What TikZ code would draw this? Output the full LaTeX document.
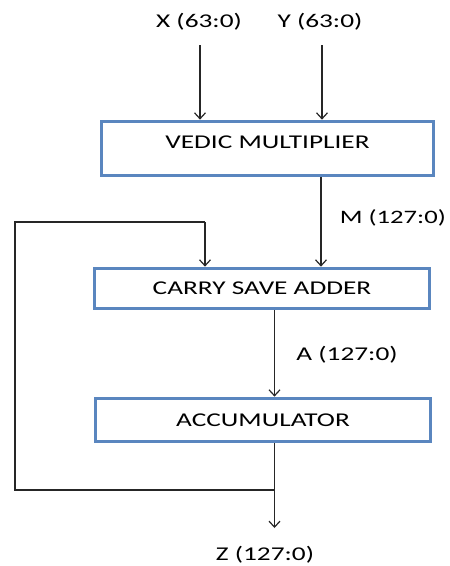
\documentclass[tikz,border=0pt]{standalone}
\usepackage{fontspec}
\setmainfont{Carlito}[FakeStretch=1.4]
\usepackage{tikz}
\usetikzlibrary{arrows.meta,positioning,calc}
\definecolor{blkedge}{HTML}{5A86BF}

\begin{document}
\begin{tikzpicture}[x=1pt, y=-1pt,
    blk/.style={draw=blkedge, line width=3.7pt, fill=white, inner sep=0pt,
                font=\fontsize{19.5}{22}\selectfont},
    lbl/.style={font=\fontsize{19.5}{22}\selectfont, inner sep=0pt},
    arr/.style={-{Straight Barb[length=6pt, width=11pt]}, line width=1.2pt, black!85},
    wire/.style={line width=1.2pt, black!85}]
    \useasboundingbox (0,0) rectangle (450,566);
    \node[lbl] (xl) at (199,22) {X (63:0)};
    \node[lbl] (yl) at (320,22) {Y (63:0)};
    \node[blk, minimum width=332pt, minimum height=54pt, text depth=12pt] (vm) at (267.5,148.5) {VEDIC MULTIPLIER};
    \node[blk, minimum width=335pt, minimum height=40pt] (csa) at (262,288.5) {CARRY SAVE ADDER};
    \node[blk, minimum width=335pt, minimum height=43pt] (acc) at (263,420) {ACCUMULATOR};
    \node[lbl, anchor=east, font=\fontsize{19}{22}\selectfont] (ml) at (446,218) {M (127:0)};
    \node[lbl] (al) at (347,355) {A (127:0)};
    \node[lbl] (zl) at (265,555) {Z (127:0)};
    % wire end points
    \coordinate (xin) at (200,45);
    \coordinate (yin) at (322,45);
    \coordinate (mout) at (321,0);
    \coordinate (tap) at (274.5,490);
    \coordinate (zo) at (274.5,528);
    \coordinate (fb) at (15,222);
    \coordinate (fbin) at (205,222);
    \draw[arr] (xin) -- (xin |- vm.north);
    \draw[arr] (yin) -- (yin |- vm.north);
    \draw[arr] (vm.south -| mout) -- (csa.north -| mout);
    \draw[arr] (csa.south -| tap) -- (acc.north -| tap);
    \draw[arr] (acc.south -| tap) -- (zo);
    \draw[wire] (tap) -- (tap -| fb) -- (fb) -- (fbin);
    \draw[arr] (fbin) -- (fbin |- csa.north);
  \end{tikzpicture}
\end{document}
